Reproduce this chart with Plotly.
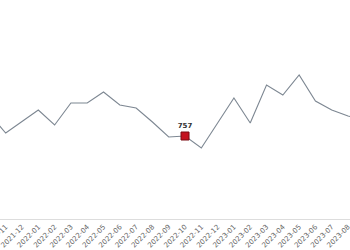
import plotly.graph_objects as go

months = ["2021-10", "2021-11", "2021-12", "2022-01", "2022-02", "2022-03", "2022-04",
          "2022-05", "2022-06", "2022-07", "2022-08", "2022-09", "2022-10", "2022-11",
          "2022-12", "2023-01", "2023-02", "2023-03", "2023-04", "2023-05", "2023-06",
          "2023-07", "2023-08", "2023-09"]
values = [801, 763, 786, 809, 779, 823, 823, 845, 819, 813, 785, 755, 757, 733,
          783, 833, 783, 859, 839, 879, 827, 809, 797, 789]
highlight_month = ["2022-10"]
highlight_value = [757]

fig = go.Figure()
fig.add_trace(go.Scatter(x=months, y=values, mode="lines",
                         line=dict(color="#7d8792", width=1.1), hoverinfo="skip"))
fig.add_trace(go.Scatter(x=highlight_month, y=highlight_value, mode="markers+text",
                         marker=dict(symbol="square", size=8, color="#c4121f",
                                     line=dict(color="#7a0a12", width=1)),
                         text=[str(v) for v in highlight_value], textposition="top center",
                         textfont=dict(family="DejaVu Sans", size=7, color="#333333", weight="bold")))

fig.update_layout(
    width=350, height=250, margin=dict(l=0, r=0, t=10, b=31),
    paper_bgcolor="white", plot_bgcolor="white", showlegend=False,
    xaxis=dict(type="category", range=[0.65, 22.12], showgrid=False, zeroline=False,
               showline=True, linecolor="#dddddd", linewidth=1, tickangle=-45,
               ticks="", tickfont=dict(family="DejaVu Sans", size=7, color="#666666"),
               automargin=False),
    yaxis=dict(range=[591, 1009], visible=False, showgrid=False, zeroline=False),
)
fig.write_html("out.html")
